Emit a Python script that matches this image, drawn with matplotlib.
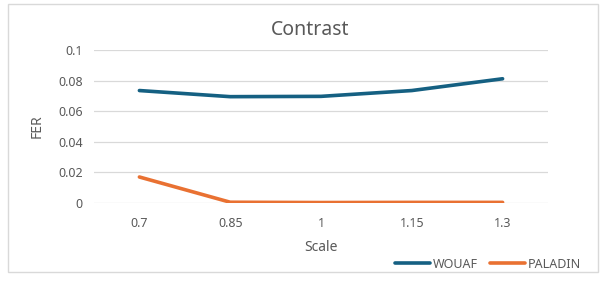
import matplotlib.pyplot as plt
from matplotlib.patches import Rectangle

scales = ['0.7', '0.85', '1', '1.15', '1.3']
wouaf = [0.0735, 0.0695, 0.0697, 0.0735, 0.0812]
paladin = [0.017, 0.0005, 0.0003, 0.0004, 0.0004]

plt.rcParams['font.family'] = ['Noto Sans', 'DejaVu Sans']
txt = '#595959'

fig = plt.figure(figsize=(6.05, 2.83), dpi=100)
fig.patches.append(Rectangle((8 / 605, 1 - 272 / 283), 590 / 605, 268 / 283,
                             transform=fig.transFigure, fill=False,
                             edgecolor='#d9d9d9', linewidth=1))
ax = fig.add_axes([94 / 605, 1 - 203 / 283, 454 / 605, 153 / 283])

x = range(len(scales))
ax.plot(x, wouaf, color='#156082', linewidth=2.6, label='WOUAF', solid_capstyle='round')
ax.plot(x, paladin, color='#E97132', linewidth=2.6, label='PALADIN', solid_capstyle='round')

ax.set_xlim(-0.5, len(scales) - 0.5)
ax.set_ylim(0, 0.1)
ax.set_yticks([0, 0.02, 0.04, 0.06, 0.08, 0.1])
ax.set_yticklabels(['0', '0.02', '0.04', '0.06', '0.08', '0.1'])
ax.set_xticks(list(x))
ax.set_xticklabels(scales)
ax.grid(axis='y', color='#d9d9d9', linewidth=0.9)
ax.set_axisbelow(True)
for s in ax.spines.values():
    s.set_visible(False)
ax.tick_params(length=0, labelsize=9, colors=txt, pad=8)
ax.tick_params(axis='x', pad=10)

fig.text(310 / 605, 1 - 30 / 283, 'Contrast', fontsize=14, color=txt,
         ha='center', va='center')
ax.set_xlabel('Scale', fontsize=10, color=txt, labelpad=7)
ax.set_ylabel('FER', fontsize=10, color=txt, labelpad=10)

fig.legend(loc='center', bbox_to_anchor=(488 / 605, 1 - 264 / 283), ncol=2,
           frameon=False, fontsize=9, labelcolor=txt, handlelength=2.8,
           handletextpad=0.2, columnspacing=1.0)

fig.savefig('out.png', dpi=100)
